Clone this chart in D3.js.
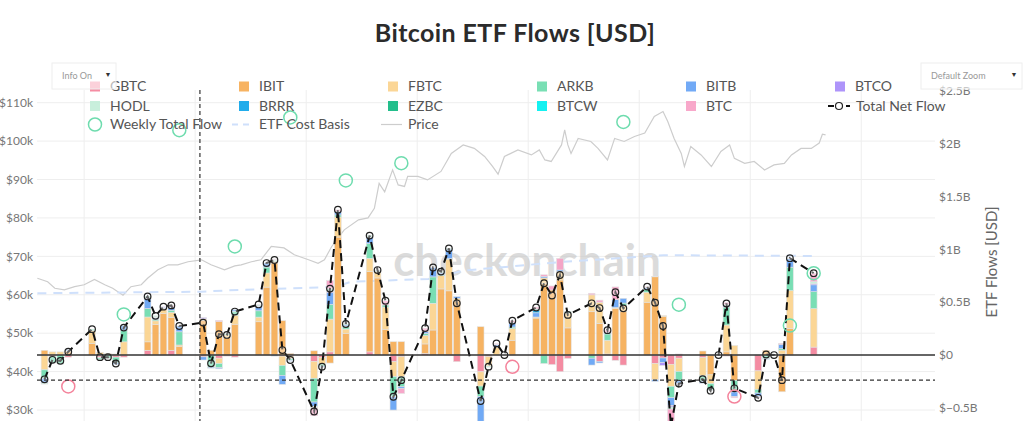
<!DOCTYPE html>
<html>
<head>
<meta charset="utf-8">
<script src="https://cdn.jsdelivr.net/npm/d3@7"></script>
<style>
  body { margin: 0; background: #fff; }
  svg { display: block; font-family: Lato, "Open Sans", sans-serif; }
</style>
</head>
<body>
<div id="chart"></div>
<script>
// Trading days (market holidays kept with zero flow, as in the source chart)
var flowDates = ["2024-10-01","2024-10-02","2024-10-03","2024-10-04","2024-10-07","2024-10-08","2024-10-09","2024-10-10","2024-10-11",
  "2024-10-14","2024-10-15","2024-10-16","2024-10-17","2024-10-18","2024-10-21","2024-10-22","2024-10-23","2024-10-24","2024-10-25",
  "2024-10-28","2024-10-29","2024-10-30","2024-10-31","2024-11-01","2024-11-04","2024-11-05","2024-11-06","2024-11-07","2024-11-08",
  "2024-11-11","2024-11-12","2024-11-13","2024-11-14","2024-11-15","2024-11-18","2024-11-19","2024-11-20","2024-11-21","2024-11-22",
  "2024-11-25","2024-11-26","2024-11-27","2024-11-28","2024-11-29","2024-12-02","2024-12-03","2024-12-04","2024-12-05","2024-12-06",
  "2024-12-09","2024-12-10","2024-12-11","2024-12-12","2024-12-13","2024-12-16","2024-12-17","2024-12-18","2024-12-19","2024-12-20",
  "2024-12-23","2024-12-24","2024-12-25","2024-12-26","2024-12-27","2024-12-30","2024-12-31","2025-01-01","2025-01-02","2025-01-03",
  "2025-01-06"];

// Daily flows per ETF, $M
var gbtc = [0,-12,0,-20,0,-25,0,-20,-20, 45,0,0,45,0,-17,0,-30,-10,-20, 0,0,0,-10,-10,-60,-25,30,0,0,
  30,0,0,-63,-16,15,0,0,0,-63, -159,-15,0,0,0,-5,0,-90,-158,-32, 0,-60,10,-50,-95,0,-80,-28,-88,-30,
  -25,0,0,-10,0,-150,0,0,10,0, 75];
var ibit = [45,0,0,30,110,0,0,0,0, 80,289,393,309,80,329,45,318,165,292, 315,643,872,325,15,40,0,-76,1117,206,
  760,730,244,126,126,90,237,626,608,513, 268,0,0,0,140,350,680,616,711,257, 410,300,0,440,410,500,741,365,0,0,
  38,-188,0,30,-240,0,45,0,-348,253, 0];
var fbtc = [-140,30,30,10,120,25,15,10,125, 235,35,48,50,15,15,0,-50,25,85, 44,134,13,-88,-25,-160,-60,310,190,40,
  126,60,210,-142,-190,80,253,126,300,25, -135,-90,75,0,110,10,50,0,80,140, 160,200,130,10,60,95,-155,8,-208,-125,
  -172,-83,0,254,90,-175,0,0,36,357, 365];
var arkb = [-80,-63,-85,0,15,-20,-30,-55,105, 80,15,0,20,125,0,-115,-40,10,35, 60,56,10,-95,-15,-225,-20,140,20,25,
  140,10,20,-190,-95,20,250,10,5,0, -100,-10,0,0,15,0,-80,0,0,15, -30,0,60,0,22,30,0,0,-108,-85,
  -50,-60,0,170,-110,-35,-35,0,16,222, 160];
var bitb = [-45,0,0,12,0,0,-5,-15,50, 95,12,10,30,55,-30,-9,-10,0,20, 39,38,-10,-85,-12,-40,-10,110,30,15,
  60,5,0,-126,-16,15,89,15,90,15, -280,0,25,0,45,40,15,0,15,0, -65,-15,15,75,45,15,-15,-45,-75,-30,
  -20,-7,0,15,-45,-35,-5,0,38,80, 65];
var btco = [0,0,0,0,0,0,0,0,0, 5,5,7,0,0,10,0,0,0,0, 5,0,0,0,0,0,0,10,5,0,
  0,0,0,0,0,0,0,0,0,0, 0,0,0,0,0,0,0,0,0,0, 0,0,0,0,0,0,0,-25,-13,-10,
  0,0,0,0,0,0,0,0,0,0, 10];
var hodl = [-10,0,0,0,0,0,0,0,0, 5,10,0,0,0,0,0,0,0,0, 5,0,10,0,0,-15,0,20,0,0,
  8,0,0,0,0,0,0,5,0,0, 0,0,0,0,0,0,0,0,0,0, 0,0,0,0,0,0,0,0,-20,0,
  0,0,0,10,0,0,0,0,0,0, 20];
var brrr = [0,0,0,0,0,0,0,0,0, 0,0,0,0,0,0,0,0,0,0, 0,0,0,0,0,0,0,0,0,0,
  0,0,0,0,0,0,0,0,0,0, 0,0,0,0,0,20,0,0,0,0, 0,0,0,0,0,0,0,0,0,0,
  0,0,0,0,0,0,0,0,0,0, 0];
var ezbc = [0,0,0,0,0,0,0,0,0, 10,5,0,0,0,0,0,0,0,0, 6,0,0,0,0,0,0,10,0,8,
  7,0,0,0,0,0,0,8,7,0, 0,0,0,0,0,15,0,0,0,0, 0,0,0,0,0,0,0,0,0,0,
  0,0,0,0,0,0,0,0,0,0, 0];
var btcw = [0,0,0,0,0,0,0,0,0, 0,0,0,0,0,0,0,0,0,0, 0,0,0,0,0,0,0,0,0,0,
  0,0,0,0,0,0,0,0,0,0, 0,0,0,0,0,0,0,0,0,0, 0,0,0,0,0,0,0,0,0,0,
  0,0,0,0,0,0,0,0,0,0, 0];
var btcMini = [0,0,0,0,0,0,0,0,0, 0,0,0,16,0,0,0,10,0,0, 5,0,5,0,0,-75,5,75,14,0,
  0,0,40,0,-47,35,0,0,0,0, -30,5,10,0,15,20,15,38,110,0, 15,20,20,120,0,8,5,0,-160,10,
  0,0,0,20,-10,-10,0,0,10,5, 80];

// BTC price, $k (days after 1 Oct 2024)
var priceDays = [-0.9,0.4,1.3,2.5,3.8,5.0,6.3,7.6,8.6,9.9,10.9,12.2,13.0,14.3,15.6,16.8,18.1,19.8,21.0,22.7,24.0,24.8,26.1,27.3,
  28.6,30.2,31.5,33.3,34.5,35.3,36.2,37.8,39.6,40.8,41.6,42.2,42.9,43.9,44.6,45.4,45.8,47.1,48.3,50.0,51.3,52.8,54.2,55.5,
  56.5,57.2,58.0,59.7,61.4,62.4,63.1,63.9,65.2,65.6,66.0,66.4,67.3,68.9,69.8,71.0,71.9,73.1,74.4,75.7,76.9,78.0,78.6,79.4,
  80.3,80.7,81.5,82.8,84.1,85.3,86.4,87.0,88.3,89.5,90.8,92.0,93.3,94.2,95.4,96.7,97.7,98.1,98.5];
var priceK = [64.3,63.4,61.7,61.3,62.1,62.6,64.0,62.6,61.7,59.9,62.1,62.6,64.3,66.5,67.8,67.8,68.6,69.1,67.8,66.5,67.5,67.8,68.6,69.1,
  72.6,72.2,70.4,69.1,68.2,69.1,72.5,76.9,79.5,80.0,82.5,89.0,86.8,92.5,88.6,88.2,90.8,90.8,89.9,92.1,96.8,99.0,98.1,96.0,
  93.4,91.4,96.0,97.7,96.4,97.7,95.1,94.7,99.0,102.9,99.0,96.8,100.7,99.9,98.1,95.1,100.7,99.9,101.2,102.1,106.4,107.7,105.1,100.7,
  96.8,93.4,98.6,96.4,93.4,97.3,99.0,95.5,94.2,94.7,92.5,93.8,94.2,96.4,98.1,98.1,99.5,101.8,101.6];

// ETF cost basis, $k
var costBasisDays = [-0.9,19.8,24.8,36.5,38.7,48.4,52.9,65.5,75.2,78.1,97.6];
var costBasisK = [60.4,60.8,61.3,62.0,63.4,64.1,66.3,68.6,69.9,70.3,70.1];

// Axis ticks
var priceTicks = [30,40,50,60,70,80,90,100,110];     // $k
var flowTicks = [-500,0,500,1000,1500,2000,2500];     // $M

var etfNames = ["GBTC","IBIT","FBTC","ARKB","BITB","BTCO","HODL","BRRR","EZBC","BTCW","BTC"];
var etfFlows = [gbtc, ibit, fbtc, arkb, bitb, btco, hodl, brrr, ezbc, btcw, btcMini];
var etfColors = ["#f4839b","#f6ad55","#fbd38d","#6edcae","#66a3f5","#a78bfa","#c3eed9","#0ea5e9","#10b981","#00f0f0","#f7a1c6"];

// Layout
var width = 1024, height = 421;
var plot = { left: 37, right: 935, top: 90, bottom: 430 };
var epoch = Date.UTC(2024, 9, 1);
var dayMs = 864e5;
var parseDay = d3.utcParse("%Y-%m-%d");

var svg = d3.select("#chart").append("svg")
    .attr("width", width)
    .attr("height", height);

svg.append("defs").append("clipPath").attr("id", "plot-clip")
    .append("rect")
    .attr("x", plot.left).attr("y", plot.top)
    .attr("width", plot.right - plot.left).attr("height", plot.bottom - plot.top);

// Scales
var x = d3.scaleUtc()
    .domain([new Date(epoch - 0.946 * dayMs), new Date(epoch + 112.3 * dayMs)])
    .range([plot.left, plot.right]);
var yFlow = d3.scaleLinear().domain([-710, 2510]).range([plot.bottom, plot.top]);
var yPrice = d3.scaleLinear().domain([24.8, 113.3]).range([plot.bottom, plot.top]);

// Build table and stacks
var rows = flowDates.map(function (s, i) {
    var row = { date: parseDay(s) };
    etfNames.forEach(function (n, k) { row[n] = etfFlows[k][i]; });
    row.total = d3.sum(etfNames, function (n) { return row[n]; });
    return row;
});
var stacked = d3.stack().keys(etfNames).offset(d3.stackOffsetDiverging)(rows);

// Weekly totals placed on the last trading day of each week
var weekly = d3.rollups(rows, function (v) {
    return { date: v[v.length - 1].date, total: d3.sum(v, function (d) { return d.total; }) };
}, function (d) { return +d3.utcMonday.floor(d.date); }).map(function (d) { return d[1]; });

var priceData = priceDays.map(function (d, i) { return { date: new Date(epoch + d * dayMs), v: priceK[i] }; });
var costData = costBasisDays.map(function (d, i) { return { date: new Date(epoch + d * dayMs), v: costBasisK[i] }; });

// Title
svg.append("text")
    .attr("x", 515).attr("y", 42)
    .attr("text-anchor", "middle")
    .style("font-size", "25px").style("font-weight", "bold").style("fill", "#2b2b2b")
    .style("letter-spacing", "0.4px")
    .text("Bitcoin ETF Flows [USD]");

// Gridlines
var grid = svg.append("g").attr("clip-path", "url(#plot-clip)");
grid.selectAll(".hgrid").data(priceTicks).enter().append("line")
    .attr("x1", plot.left).attr("x2", plot.right)
    .attr("y1", function (d) { return yPrice(d); }).attr("y2", function (d) { return yPrice(d); })
    .style("stroke", "#eeeeee").style("stroke-width", 1);
grid.selectAll(".vgrid").data(d3.utcDay.range(parseDay("2024-10-06"), x.domain()[1], 14)).enter().append("line")
    .attr("x1", function (d) { return x(d); }).attr("x2", function (d) { return x(d); })
    .attr("y1", plot.top).attr("y2", plot.bottom)
    .style("stroke", "#eeeeee").style("stroke-width", 1);

// Watermark
svg.append("text")
    .attr("x", 527).attr("y", 276)
    .attr("text-anchor", "middle")
    .style("font-size", "44px").style("font-weight", "bold")
    .style("fill", "#c4c4c4").style("opacity", 0.6)
    .text("checkonchain");

var main = svg.append("g").attr("clip-path", "url(#plot-clip)");

// Price and cost basis (left axis)
main.append("path").datum(priceData)
    .attr("d", d3.line().x(function (d) { return x(d.date); }).y(function (d) { return yPrice(d.v); }))
    .style("fill", "none").style("stroke", "#cdcdcd").style("stroke-width", 1.2);
main.append("path").datum(costData)
    .attr("d", d3.line().x(function (d) { return x(d.date); }).y(function (d) { return yPrice(d.v); }))
    .style("fill", "none").style("stroke", "#cfe0fb").style("stroke-width", 2)
    .style("stroke-dasharray", "9,7");

// Stacked flow bars (right axis)
var barW = 0.85 * (x(new Date(epoch + dayMs)) - x(new Date(epoch)));
main.selectAll(".layer").data(stacked).enter().append("g")
    .style("fill", function (d, i) { return etfColors[i]; })
    .selectAll("rect")
    .data(function (d) { return d.filter(function (s) { return s[1] - s[0] !== 0; }); })
    .enter().append("rect")
    .attr("x", function (d) { return x(d.data.date) - barW / 2; })
    .attr("y", function (d) { return yFlow(Math.max(d[0], d[1])); })
    .attr("width", barW)
    .attr("height", function (d) { return Math.abs(yFlow(d[0]) - yFlow(d[1])); })
    .style("opacity", 0.92)
    .style("stroke", "#e2e2e2").style("stroke-width", 0.6);

// Zero line
svg.append("line")
    .attr("x1", plot.left).attr("x2", plot.right)
    .attr("y1", yFlow(0)).attr("y2", yFlow(0))
    .style("stroke", "#333").style("stroke-width", 1.6);

// Hover crosshair captured in the screenshot
svg.append("line")
    .attr("x1", x(new Date(epoch + 19.6 * dayMs))).attr("x2", x(new Date(epoch + 19.6 * dayMs)))
    .attr("y1", plot.top).attr("y2", height)
    .style("stroke", "#333").style("stroke-width", 1.2).style("stroke-dasharray", "4,3");
svg.append("line")
    .attr("x1", plot.left).attr("x2", plot.right)
    .attr("y1", yFlow(-237)).attr("y2", yFlow(-237))
    .style("stroke", "#333").style("stroke-width", 1.2).style("stroke-dasharray", "4,3");

// Total net flow line with markers
main.append("path").datum(rows)
    .attr("d", d3.line().x(function (d) { return x(d.date); }).y(function (d) { return yFlow(d.total); }))
    .style("fill", "none").style("stroke", "#111").style("stroke-width", 2)
    .style("stroke-dasharray", "8,5");
main.selectAll(".marker").data(rows).enter().append("circle")
    .attr("cx", function (d) { return x(d.date); })
    .attr("cy", function (d) { return yFlow(d.total); })
    .attr("r", 3.3)
    .style("fill", "rgba(255,255,255,0.35)").style("stroke", "#222").style("stroke-width", 1.2);

// Weekly total flow circles
main.selectAll(".weekly").data(weekly).enter().append("circle")
    .attr("cx", function (d) { return x(d.date); })
    .attr("cy", function (d) { return yFlow(d.total); })
    .attr("r", 6.5)
    .style("fill", "none")
    .style("stroke", function (d) { return d.total >= 0 ? "#6edcae" : "#f4839b"; })
    .style("stroke-width", 1.5);

// Left axis (price)
svg.selectAll(".ltick").data(priceTicks).enter().append("text")
    .attr("x", 33).attr("y", function (d) { return yPrice(d); })
    .attr("dy", "0.35em").attr("text-anchor", "end")
    .style("font-size", "12px").style("fill", "#777")
    .text(function (d) { return "$" + d + "k"; });

// Right axis (flows)
svg.selectAll(".rtick").data(flowTicks).enter().append("text")
    .attr("x", 939).attr("y", function (d) { return yFlow(d); })
    .attr("dy", "0.35em")
    .style("font-size", "12px").style("fill", "#777")
    .text(function (d) { return d === 0 ? "$0" : "$" + d3.format("")(d / 1000) + "B"; });
svg.append("text")
    .attr("transform", "translate(997,262) rotate(-90)")
    .attr("text-anchor", "middle")
    .style("font-size", "15px").style("fill", "#666")
    .text("ETF Flows [USD]");

// Legend
var legendCols = [90, 239, 388, 537, 686, 835];
var legendRows = [86.5, 106, 124.5];
var legend = svg.append("g");
etfNames.forEach(function (n, i) {
    var cx = legendCols[i % 6], cy = legendRows[Math.floor(i / 6)];
    legend.append("rect")
        .attr("x", cx).attr("y", cy - 5).attr("width", 10).attr("height", 10)
        .style("fill", etfColors[i]).style("opacity", 0.92);
    legend.append("text")
        .attr("x", cx + 20).attr("y", cy).attr("dy", "0.35em")
        .style("font-size", "14px").style("fill", "#555").text(n);
});
// Total Net Flow symbol
legend.append("line")
    .attr("x1", 828).attr("x2", 850).attr("y1", legendRows[1]).attr("y2", legendRows[1])
    .style("stroke", "#111").style("stroke-width", 2).style("stroke-dasharray", "6,3");
legend.append("circle")
    .attr("cx", 839).attr("cy", legendRows[1]).attr("r", 3.5)
    .style("fill", "#fff").style("stroke", "#222").style("stroke-width", 1.2);
legend.append("text")
    .attr("x", 856).attr("y", legendRows[1]).attr("dy", "0.35em")
    .style("font-size", "14px").style("fill", "#555").text("Total Net Flow");
// Third row
legend.append("circle")
    .attr("cx", 95).attr("cy", legendRows[2]).attr("r", 6.5)
    .style("fill", "none").style("stroke", "#6edcae").style("stroke-width", 1.5);
legend.append("text")
    .attr("x", 110).attr("y", legendRows[2]).attr("dy", "0.35em")
    .style("font-size", "14px").style("fill", "#555").text("Weekly Total Flow");
legend.append("line")
    .attr("x1", 232).attr("x2", 253).attr("y1", legendRows[2]).attr("y2", legendRows[2])
    .style("stroke", "#cfe0fb").style("stroke-width", 2).style("stroke-dasharray", "6,5");
legend.append("text")
    .attr("x", 259).attr("y", legendRows[2]).attr("dy", "0.35em")
    .style("font-size", "14px").style("fill", "#555").text("ETF Cost Basis");
legend.append("line")
    .attr("x1", 381).attr("x2", 402).attr("y1", legendRows[2]).attr("y2", legendRows[2])
    .style("stroke", "#cdcdcd").style("stroke-width", 1.2);
legend.append("text")
    .attr("x", 408).attr("y", legendRows[2]).attr("dy", "0.35em")
    .style("font-size", "14px").style("fill", "#555").text("Price");

// Dropdown menus
[{ x: 52, w: 64, label: "Info On" }, { x: 921, w: 101, label: "Default Zoom" }].forEach(function (m) {
    var g = svg.append("g");
    g.append("rect")
        .attr("x", m.x).attr("y", 63).attr("width", m.w).attr("height", 26)
        .style("fill", "#fff").style("fill-opacity", 0.6).style("stroke", "#eee");
    g.append("text")
        .attr("x", m.x + 10).attr("y", 75.5).attr("dy", "0.35em")
        .style("font-size", "9px").style("fill", "#999").text(m.label);
    g.append("text")
        .attr("x", m.x + m.w - 8).attr("y", 74.5).attr("dy", "0.35em")
        .attr("text-anchor", "middle")
        .style("font-size", "7px").style("fill", "#333").text("\u25BC");
});
</script>
</body>
</html>
